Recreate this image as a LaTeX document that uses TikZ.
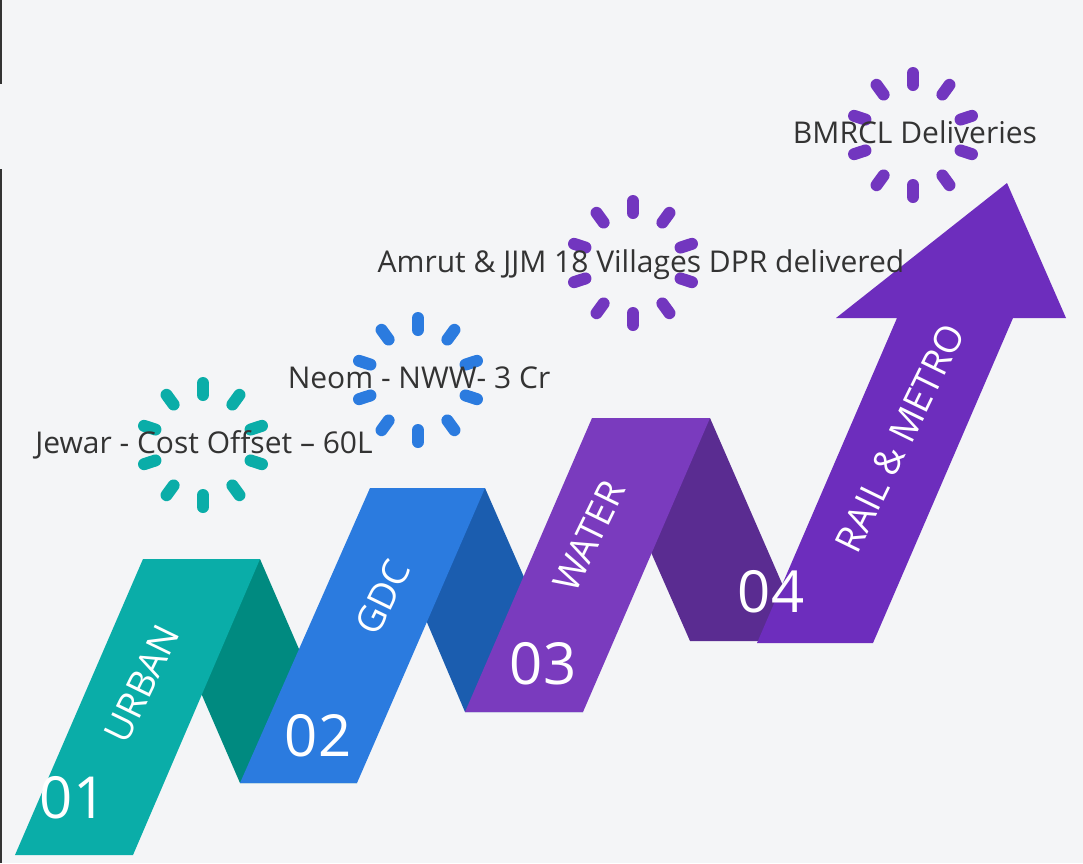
\documentclass[tikz,border=0pt]{standalone}
\usepackage{fontspec}
\setmainfont{Open Sans}
\definecolor{bgc}{HTML}{F4F5F7}
\definecolor{tealf}{HTML}{0AADA8}
\definecolor{teald}{HTML}{008A80}
\definecolor{bluef}{HTML}{2B7BDF}
\definecolor{blued}{HTML}{1B5DAF}
\definecolor{purf}{HTML}{7A3BBE}
\definecolor{purd}{HTML}{5A2C91}
\definecolor{arrowc}{HTML}{6D2DBD}
\definecolor{spinp}{HTML}{7236BF}
\definecolor{txtc}{HTML}{333333}
\definecolor{edgec}{HTML}{333333}
\tikzset{
  desc/.style={inner sep=0pt, anchor=base, text=txtc, font=\fontsize{30}{36}\selectfont},
  numlbl/.style={inner sep=0pt, text=white, font=\fontsize{58}{64}\selectfont},
  catlbl/.style={inner sep=0pt, text=white, rotate=64, font=\fontsize{37}{42}\selectfont},
  spindash/.style={line width=12pt, line cap=round},
}
\newcommand{\spinner}[2]{%
  \foreach \a in {18,54,...,342}{\draw[spindash,#2,shift={#1}] (\a:50) -- (\a:62);}%
}
\begin{document}
\begin{tikzpicture}[x=1pt,y=-1pt]
\useasboundingbox (0,0) rectangle (1083,863);
\fill[bgc] (0,0) rectangle (1083,863);
\fill[edgec] (0,0) rectangle (2,84);
\fill[edgec] (0,169) rectangle (2,863);
% back folds
\fill[teald] (143,559) -- (260,559) -- (357,783) -- (240,783) -- cycle;
\fill[blued] (370,488) -- (485,488) -- (583,712) -- (465,712) -- cycle;
\fill[purd] (592,418) -- (710,418) -- (807,641) -- (690,641) -- cycle;
% front panels
\fill[tealf] (15,855) -- (133,855) -- (260,559) -- (143,559) -- cycle;
\fill[bluef] (240,783) -- (357,783) -- (485,488) -- (370,488) -- cycle;
\fill[purf] (465,712) -- (583,712) -- (710,418) -- (592,418) -- cycle;
\fill[arrowc] (757,643) -- (897,318) -- (836,318) -- (1007,183) -- (1066,318) -- (1013,318) -- (873,643) -- cycle;
% spinners
\spinner{(203,445)}{tealf}
\spinner{(418,380)}{bluef}
\spinner{(633,263)}{spinp}
\spinner{(913,135)}{spinp}
% description texts
\node[desc] (t1) at (204,453) {Jewar - Cost Offset – 60L};
\node[desc] (t2) at (419,388) {Neom - NWW- 3 Cr};
\node[desc] (t3) at (641,272) {Amrut \& JJM 18 Villages DPR delivered};
\node[desc] (t4) at (915,143) {BMRCL Deliveries};
% numbers
\node[numlbl] (n1) at (73,798) {01};
\node[numlbl] (n2) at (318,736) {02};
\node[numlbl] (n3) at (543,664) {03};
\node[numlbl] (n4) at (771,592) {04};
% categories
\node[catlbl] (c1) at (142,684) {URBAN};
\node[catlbl] (c2) at (383,597) {GDC};
\node[catlbl] (c3) at (589,536) {WATER};
\node[catlbl] (c4) at (900,438) {RAIL \& METRO};
\end{tikzpicture}
\end{document}
